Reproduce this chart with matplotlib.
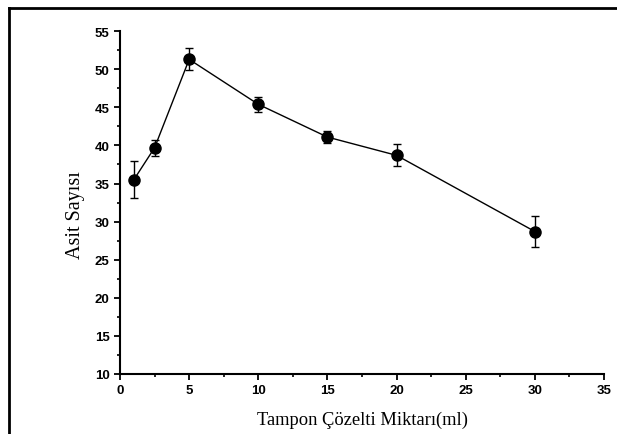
import numpy as np
import matplotlib
matplotlib.use('Agg')
import matplotlib.pyplot as plt
from matplotlib.lines import Line2D
from matplotlib.ticker import MultipleLocator

# data
tampon_ml = [1, 2.5, 5, 10, 15, 20, 30]
asit_sayisi = [35.5, 39.7, 51.3, 45.4, 41.1, 38.7, 28.7]
hata = [2.4, 1.05, 1.45, 1.0, 0.75, 1.45, 2.0]

x_ticks = [0, 5, 10, 15, 20, 25, 30, 35]
y_ticks = [10, 15, 20, 25, 30, 35, 40, 45, 50, 55]

fig = plt.figure(figsize=(6.17, 4.35), dpi=100)
ax = fig.add_axes([0.1945, 0.138, 0.7845, 0.788])

ax.errorbar(tampon_ml, asit_sayisi, yerr=hata, color='black', lw=1,
            marker='o', ms=8, capsize=3, elinewidth=1, capthick=1)

ax.set_xlim(0, 35)
ax.set_ylim(10, 55)
ax.set_xticks(x_ticks)
ax.set_yticks(y_ticks)
ax.xaxis.set_minor_locator(MultipleLocator(2.5))
ax.yaxis.set_minor_locator(MultipleLocator(2.5))

for s in ['top', 'right']:
    ax.spines[s].set_visible(False)
for s in ['left', 'bottom']:
    ax.spines[s].set_linewidth(1.5)

ax.tick_params(which='major', direction='out', length=4, width=1.3)
ax.tick_params(which='minor', direction='out', length=2.5, width=1.2)
for lab in ax.get_xticklabels() + ax.get_yticklabels():
    lab.set_fontfamily('Liberation Sans')
    lab.set_fontweight('bold')
    lab.set_fontsize(9.5)

ax.set_xlabel('Tampon Çözelti Miktarı(ml)', family='Liberation Serif', fontsize=13.3, labelpad=10)
ax.set_ylabel('Asit Sayısı', family='Liberation Serif', fontsize=14.5)
ax.yaxis.set_label_coords(-0.072, 0.466)

# frame lines of the original image (top and left)
fig.add_artist(Line2D([9/617, 1], [1-9/435, 1-9/435], color='black', lw=2, transform=fig.transFigure))
fig.add_artist(Line2D([9/617, 9/617], [0, 1-9/435], color='black', lw=2, transform=fig.transFigure))

fig.savefig('out.png', dpi=100)
